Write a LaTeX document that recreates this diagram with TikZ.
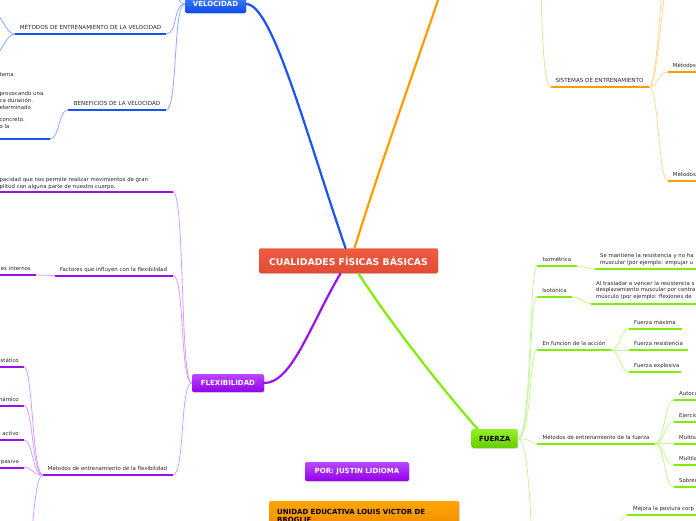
\documentclass[tikz,border=0pt]{standalone}
\usepackage{fontspec}
\setmainfont{DejaVu Sans}
\usetikzlibrary{calc,shadows}

\definecolor{cenred}{RGB}{232,83,59}
\definecolor{veloblue}{RGB}{22,84,245}
\definecolor{velolight}{RGB}{140,170,255}
\definecolor{flexpurple}{RGB}{155,16,240}
\definecolor{flexlight}{RGB}{214,156,255}
\definecolor{fuerzagreen}{RGB}{128,238,0}
\definecolor{fuerzalight}{RGB}{196,246,150}
\definecolor{sisorange}{RGB}{255,156,0}
\definecolor{sislight}{RGB}{255,214,150}
\definecolor{labelgray}{RGB}{40,40,40}

\begin{document}
\begin{tikzpicture}[x=1pt,y=-1pt,
  lbl/.style={font=\fontsize{5.4}{6.6}\selectfont,text=labelgray,inner sep=0pt},
  caps/.style={font=\fontsize{5.6}{6.6}\selectfont,text=labelgray,inner sep=0pt},
  topic/.style={rounded corners=1.5pt,inner sep=0pt,font=\bfseries\fontsize{7}{8}\selectfont,
    drop shadow={shadow xshift=0.6pt,shadow yshift=-0.8pt,opacity=0.25}},
  bar/.style={line width=2pt},
  link/.style={line width=0.8pt},
  trunk/.style={line width=2.2pt,line cap=round}]
  \useasboundingbox (0,0) rectangle (696,520);
  \clip (0,0) rectangle (696,520);

  % Main topics
  \node[topic,top color={rgb,255:red,238;green,92;blue,66},bottom color={rgb,255:red,226;green,76;blue,52},
    text=white,minimum width=179pt,minimum height=25pt,font=\bfseries\fontsize{9.3}{10}\selectfont]
    (cen) at (348.5,260.8) {CUALIDADES FÍSICAS BÁSICAS};
  \node[topic,top color={rgb,255:red,72;green,132;blue,255},bottom color={rgb,255:red,10;green,74;blue,236},
    text=white,minimum width=61pt,minimum height=18pt] (velo) at (215.5,4) {VELOCIDAD};
  \node[topic,top color={rgb,255:red,186;green,72;blue,255},bottom color={rgb,255:red,146;green,0;blue,236},
    text=white,minimum width=72pt,minimum height=18pt] (flex) at (228,383) {FLEXIBILIDAD};
  \node[topic,top color={rgb,255:red,150;green,240;blue,40},bottom color={rgb,255:red,100;green,205;blue,0},
    text=black,minimum width=46pt,minimum height=19pt] (fuerza) at (494.7,438.5) {FUERZA};
  \node[topic,top color={rgb,255:red,186;green,72;blue,255},bottom color={rgb,255:red,146;green,0;blue,236},
    text=white,minimum width=104pt,minimum height=19pt] (por) at (357,471.7) {POR: JUSTIN LIDIOMA};
  \node[topic,top color={rgb,255:red,255;green,166;blue,0},bottom color={rgb,255:red,236;green,136;blue,0},
    text=black,anchor=north west,minimum width=190pt,minimum height=30pt,align=left,text width=174pt,
    inner xsep=8pt] (uni) at (269,500.7) {UNIDAD EDUCATIVA LOUIS VICTOR DE\\BROGLIE};

  % Trunks from the centre
  \coordinate (sis) at (442,-12);
  \draw[trunk,veloblue] ($(cen.north)+(-3,0)$) .. controls (305,130) and (272,4) .. (velo.east);
  \draw[trunk,sisorange] ($(cen.north)+(6,0)$) .. controls (385,150) and (425,40) .. (sis);
  \draw[trunk,flexpurple] ($(cen.south)+(-8,0)$) .. controls (310,325) and (292,383) .. (flex.east);
  \draw[trunk,fuerzagreen] ($(cen.south)+(10,0)$) .. controls (395,330) and (450,398) .. ($(fuerza.north west)+(6,0)$);

  % Velocidad
  \draw[bar,veloblue] (15,34) coordinate (mv-l) -- (166,34) coordinate (mv-r);
  \node[caps,anchor=base] (mv) at (90.5,29.5) {MÉTODOS DE ENTRENAMIENTO DE LA VELOCIDAD};
  \draw[bar,veloblue] (68,110) coordinate (bv-l) -- (166,110) coordinate (bv-r);
  \node[caps,anchor=base] (bv) at (117,105.5) {BENEFICIOS DE LA VELOCIDAD};
  \draw[bar,veloblue] (-20,139) -- (50,139) coordinate (bd-r);
  \foreach \t/\y [count=\i] in {tema/76,provocando una/95.8,ca duración./102.2,eterminado/109,concreto./121.5,o la/128}
    \node[lbl,anchor=base west] (bd\i) at (-0.5,\y) {\t};
  \coordinate (vup) at (166,-30);
  \coordinate (mvup) at (-8,12);
  \coordinate (mvdn) at (-8,56);
  \foreach \e in {mv-r,bv-r,vup}
    \draw[link,velolight] (velo.west) .. controls +(-12,0) and +(12,0) .. (\e);
  \foreach \e in {mvup,mvdn}
    \draw[link,velolight] (mv-l) .. controls +(-10,0) and +(10,0) .. (\e);
  \draw[link,velolight] (bv-l) .. controls +(-10,0) and +(10,0) .. (bd-r);

  % Flexibilidad
  \draw[bar,flexpurple] (-20,192) -- (173,192) coordinate (fd-r);
  \node[lbl,anchor=base west] (fd1) at (-0.5,181) {pacidad que nos permite realizar movimientos de gran};
  \node[lbl,anchor=base west] (fd2) at (-0.5,188) {plitud con alguna parte de nuestro cuerpo.};
  \draw[bar,flexpurple] (55,275.5) coordinate (ff-l) -- (173,275.5) coordinate (ff-r);
  \node[lbl,anchor=base] (ff) at (113.5,271) {Factores que influyen con la flexibilidad};
  \draw[bar,flexpurple] (-20,275) -- (36,275) coordinate (fi-r);
  \node[lbl,anchor=base east] (fi) at (31,270.5) {es internos};
  \draw[bar,flexpurple] (43,475) coordinate (fm-l) -- (173,475) coordinate (fm-r);
  \node[lbl,anchor=base] (fm) at (107.5,470.5) {Métodos de entrenamiento de la flexibilidad};
  \foreach \e in {fd-r,ff-r,fm-r}
    \draw[link,flexlight] (flex.west) .. controls +(-12,0) and +(12,0) .. (\e);
  \draw[link,flexlight] (ff-l) .. controls +(-9,0) and +(9,0) .. (fi-r);
  \foreach \y/\t [count=\i] in {367/stático,405.5/námico,440/e activo,467.5/pasivo}{
    \draw[bar,flexpurple] (-20,\y) -- (24,\y) coordinate (fmc\i-r);
    \node[lbl,anchor=base east] (fmc\i) at (19,\y-4.5) {\t};
    \draw[link,flexlight] (fm-l) .. controls +(-11,0) and +(9,0) .. (fmc\i-r);
  }
  \coordinate (fmdn) at (24,570);
  \draw[link,flexlight] (fm-l) .. controls +(-11,0) and +(9,0) .. (fmdn);

  % Sistemas de entrenamiento
  \draw[bar,sisorange] (551,87) coordinate (sy-l) -- (649,87) coordinate (sy-r);
  \node[caps,anchor=base] (sy) at (599.5,82.5) {SISTEMAS DE ENTRENAMIENTO};
  \coordinate (syup) at (541,-40);
  \draw[link,sislight] (sy-l) .. controls +(-9,0) and +(0,40) .. (syup);
  \foreach \y [count=\i] in {72,181}{
    \draw[bar,sisorange] (668,\y) coordinate (sm\i-l) -- (720,\y);
    \node[lbl,anchor=base west] (sm\i) at (672.7,\y-4.5) {Métodos};
    \draw[link,sislight] (sy-r) .. controls +(10,0) and +(-10,0) .. (sm\i-l);
  }
  \coordinate (sup1) at (672,-30);
  \coordinate (sup2) at (672,-70);
  \foreach \e in {sup1,sup2}
    \draw[link,sislight] (sy-r) .. controls +(10,0) and +(-10,0) .. (\e);

  % Fuerza
  \draw[bar,fuerzagreen] (537,266) coordinate (iso-l) -- (577,266) coordinate (iso-r);
  \node[lbl,anchor=base] (iso) at (557,261.5) {Isométrica};
  \draw[bar,fuerzagreen] (595,269) coordinate (isod-l) -- (720,269);
  \node[lbl,anchor=base west] (isod1) at (600,257.5) {Se mantiene la resistencia y no ha};
  \node[lbl,anchor=base west] (isod2) at (600,264) {muscular (por ejemplo: empujar u};
  \draw[bar,fuerzagreen] (537,297) coordinate (ist-l) -- (572,297) coordinate (ist-r);
  \node[lbl,anchor=base] (ist) at (554.5,292.5) {Isotónica};
  \draw[bar,fuerzagreen] (591,303.5) coordinate (istd-l) -- (720,303.5);
  \node[lbl,anchor=base west] (istd1) at (596,285.3) {Al trasladar o vencer la resistencia s};
  \node[lbl,anchor=base west] (istd2) at (596,291.8) {desplazamiento muscular por contra};
  \node[lbl,anchor=base west] (istd3) at (596,298.3) {músculo (por ejemplo: flexiones de};
  \draw[bar,fuerzagreen] (537,350) coordinate (acc-l) -- (611,350) coordinate (acc-r);
  \node[lbl,anchor=base] (acc) at (574,345.5) {En función de la acción};
  \draw[bar,fuerzagreen] (537,443.5) coordinate (mf-l) -- (655,443.5) coordinate (mf-r);
  \node[lbl,anchor=base] (mf) at (596,439) {Métodos de entrenamiento de la fuerza};
  \coordinate (fdn) at (537,560);
  \foreach \e in {iso-l,ist-l,acc-l,mf-l,fdn}
    \draw[link,fuerzalight] (fuerza.east) .. controls +(14,0) and +(-8,0) .. (\e);
  \draw[link,fuerzalight] (iso-r) .. controls +(9,0) and +(-9,0) .. (isod-l);
  \draw[link,fuerzalight] (ist-r) .. controls +(9,0) and +(-9,0) .. (istd-l);
  \foreach \y/\x/\t [count=\i] in {328.5/682/Fuerza máxima,350/688/Fuerza resistencia,372/681/Fuerza explosiva}{
    \draw[bar,fuerzagreen] (629,\y) coordinate (fa\i-l) -- (\x,\y);
    \node[lbl,anchor=base west] (fa\i) at (634,\y-4.5) {\t};
    \draw[link,fuerzalight] (acc-r) .. controls +(9,0) and +(-9,0) .. (fa\i-l);
  }
  \foreach \y/\t [count=\i] in {400/Autoca,422/Ejercic,443.5/Multisa,465/Multila,487/Sobrec}{
    \draw[bar,fuerzagreen] (674,\y) coordinate (mfc\i-l) -- (720,\y);
    \node[lbl,anchor=base west] (mfc\i) at (679,\y-4.5) {\t};
    \draw[link,fuerzalight] (mf-r) .. controls +(10,0) and +(-10,0) .. (mfc\i-l);
  }
  \draw[bar,fuerzagreen] (627,515) coordinate (mp-l) -- (720,515);
  \node[lbl,anchor=base west] (mp) at (633,510.5) {Mejora la postura corp};
  \coordinate (mpdn) at (605,550);
  \draw[link,fuerzalight] (mp-l) .. controls +(-9,0) and +(9,0) .. (mpdn);
\end{tikzpicture}
\end{document}
